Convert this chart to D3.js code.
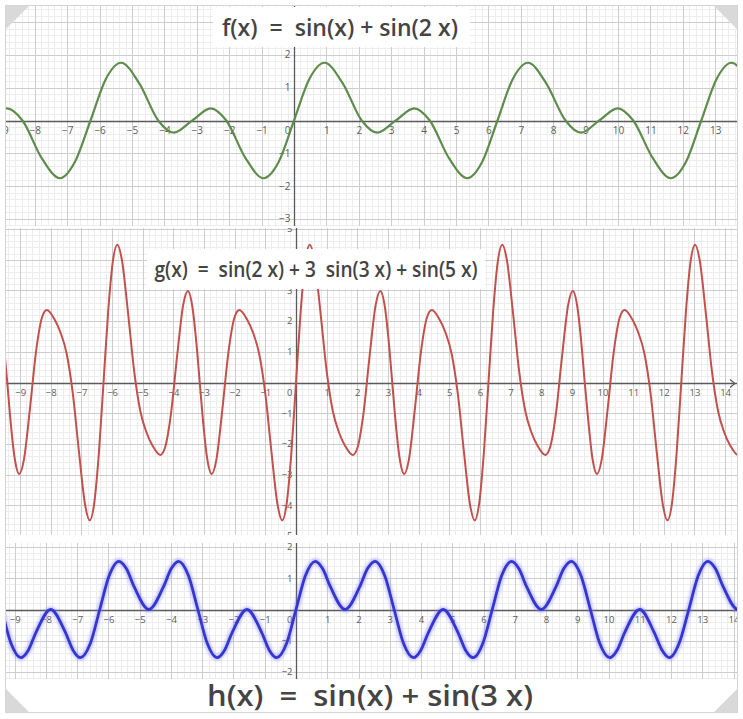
<!DOCTYPE html>
<html><head><meta charset="utf-8">
<script src="https://cdn.jsdelivr.net/npm/d3@7"></script>
<style>
html,body{margin:0;padding:0;background:#fff;}
svg{display:block;}
text{font-family:"Open Sans","DejaVu Sans",sans-serif;}
</style></head><body>
<svg id="chart" width="743" height="719"></svg>
<script>
// ---------- data (key points: extrema, zeros, shoulders) ----------
const fX = [-10.00,-9.42,-8.86,-8.38,-7.79,-7.22,-6.76,-6.28,-5.81,-5.34,-4.78,-4.19,-3.71,-3.14,-2.57,-2.09,-1.50,-0.94,-0.47,0,0.47,0.94,1.50,2.09,2.57,3.14,3.71,4.19,4.78,5.35,5.81,6.28,6.75,7.22,7.78,8.38,8.86,9.42,9.99,10.47,11.07,11.63,12.10,12.57,13.04,13.50,14.07,14.66];
const fY = [-0.37,0,0.37,0,-1.14,-1.76,-1.26,0,1.26,1.76,1.14,0,-0.37,0,0.37,0,-1.14,-1.76,-1.26,0,1.26,1.76,1.14,0,-0.37,0,0.37,0,-1.14,-1.76,-1.26,0,1.26,1.76,1.14,0,-0.37,0,0.37,0,-1.14,-1.76,-1.26,0,1.26,1.76,1.14,0];

const gX = [-9.97,-9.82,-9.67,-9.52,-9.42,-9.33,-9.18,-9.03,-8.88,-8.68,-8.48,-8.28,-8.13,-7.88,-7.68,-7.48,-7.28,-7.08,-6.88,-6.73,-6.58,-6.43,
  -6.28,-6.13,-5.98,-5.83,-5.68,-5.48,-5.28,-5.08,-4.88,-4.68,-4.43,-4.28,-4.08,-3.88,-3.68,-3.53,-3.38,-3.23,-3.14,-3.05,-2.90,-2.75,-2.60,-2.40,-2.20,-2.00,-1.85,-1.60,-1.40,-1.20,-1.00,-0.80,-0.60,-0.45,-0.30,-0.15,
  0,0.15,0.30,0.45,0.60,0.80,1.00,1.20,1.40,1.60,1.85,2.00,2.20,2.40,2.60,2.75,2.90,3.05,3.14,3.23,3.38,3.53,3.68,3.88,4.08,4.28,4.43,4.68,4.88,5.08,5.28,5.48,5.68,5.83,5.98,6.13,
  6.28,6.43,6.58,6.73,6.88,7.08,7.28,7.48,7.68,7.88,8.13,8.28,8.48,8.68,8.88,9.03,9.18,9.33,9.42,9.52,9.67,9.82,9.97,10.17,10.37,10.57,10.72,10.97,11.17,11.37,11.57,11.77,11.97,12.12,12.27,12.42,
  12.57,12.72,12.87,13.02,13.17,13.37,13.57,13.77,13.97,14.17,14.42,14.57,14.77];
const gY = [2.53,2.98,2.46,1.07,0,-1.07,-2.46,-2.98,-2.53,-0.85,1.02,2.14,2.36,2.06,1.62,0.93,-0.37,-2.27,-3.99,-4.49,-3.91,-2.28,
  0,2.28,3.91,4.49,3.99,2.27,0.37,-0.93,-1.62,-2.06,-2.36,-2.14,-1.02,0.85,2.53,2.98,2.46,1.07,0,-1.07,-2.46,-2.98,-2.53,-0.85,1.02,2.14,2.36,2.06,1.62,0.93,-0.37,-2.27,-3.99,-4.49,-3.91,-2.28,
  0,2.28,3.91,4.49,3.99,2.27,0.37,-0.93,-1.62,-2.06,-2.36,-2.14,-1.02,0.85,2.53,2.98,2.46,1.07,0,-1.07,-2.46,-2.98,-2.53,-0.85,1.02,2.14,2.36,2.06,1.62,0.93,-0.37,-2.27,-3.99,-4.49,-3.91,-2.28,
  0,2.28,3.91,4.49,3.99,2.27,0.37,-0.93,-1.62,-2.06,-2.36,-2.14,-1.02,0.85,2.53,2.98,2.46,1.07,0,-1.07,-2.46,-2.98,-2.53,-0.85,1.02,2.14,2.36,2.06,1.62,0.93,-0.37,-2.27,-3.99,-4.49,-3.91,-2.28,
  0,2.28,3.91,4.49,3.99,2.27,0.37,-0.93,-1.62,-2.06,-2.36,-2.14,-1.02];

const hX = [-10.04,-9.73,
  -9.42,-9.12,-8.81,-8.57,-8.32,-7.85,-7.38,-7.13,-6.90,-6.58,
  -6.28,-5.98,-5.67,-5.43,-5.18,-4.71,-4.24,-3.99,-3.76,-3.44,
  -3.14,-2.84,-2.53,-2.29,-2.04,-1.57,-1.10,-0.85,-0.62,-0.30,
  0,0.30,0.62,0.85,1.10,1.57,2.04,2.29,2.53,2.84,
  3.14,3.44,3.76,3.99,4.24,4.71,5.18,5.43,5.67,5.98,
  6.28,6.58,6.90,7.13,7.38,7.85,8.32,8.57,8.81,9.12,
  9.42,9.72,10.04,10.27,10.52,11.00,11.46,11.72,11.95,12.26,
  12.57,12.87,13.18,13.42,13.67,14.14,14.61];
const hY = [1.54,1.08,
  0,-1.08,-1.54,-1.31,-0.73,0,-0.73,-1.31,-1.54,-1.08,
  0,1.08,1.54,1.31,0.73,0,0.73,1.31,1.54,1.08,
  0,-1.08,-1.54,-1.31,-0.73,0,-0.73,-1.31,-1.54,-1.08,
  0,1.08,1.54,1.31,0.73,0,0.73,1.31,1.54,1.08,
  0,-1.08,-1.54,-1.31,-0.73,0,-0.73,-1.31,-1.54,-1.08,
  0,1.08,1.54,1.31,0.73,0,0.73,1.31,1.54,1.08,
  0,-1.08,-1.54,-1.31,-0.73,0,-0.73,-1.31,-1.54,-1.08,
  0,1.08,1.54,1.31,0.73,0,0.73];

// tick labels (those the reference shows)
const fTickX = [-9,-8,-7,-6,-5,-4,-3,-2,-1,1,2,3,4,5,6,7,8,9,10,11,12,13];
const fTickY = [-3,-2,-1,1,2];
const gTickX = [-9,-8,-7,-6,-5,-4,-3,-2,-1,1,2,3,4,5,6,7,8,9,10,11,12,13,14];
const gTickY = [-5,-4,-3,-2,-1,1,2,3,5];
const hTickX = [-9,-8,-7,-6,-5,-4,-3,-2,-1,1,2,3,4,5,6,7,8,9,10,11,12,13,14];
const hTickY = [-2,-1,1,2];

const titles = ["f(x)  =  sin(x) + sin(2 x)", "g(x)  =  sin(2 x) + 3  sin(3 x) + sin(5 x)", "h(x)  =  sin(x) + sin(3 x)"];

// ---------- layout ----------
const panels = [
  {id:"f", X:fX, Y:fY, tx:fTickX, ty:fTickY, x0:6, x1:737, y0:6, y1:226, ox:294, oy:120.5, ux:32.4, uy:32.8,
   color:"#5d8c4c", w:2.2, lab:10},
  {id:"g", X:gX, Y:gY, tx:gTickX, ty:gTickY, x0:6, x1:737, y0:228, y1:535, ox:296, oy:382.5, ux:30.65, uy:30.7,
   color:"#c2504c", w:2, lab:9.5, arrow:true},
  {id:"h", X:hX, Y:hY, tx:hTickX, ty:hTickY, x0:6, x1:737, y0:543, y1:679, ox:296, oy:609.5, ux:31.25, uy:31.3,
   color:"#3535cf", w:2.8, lab:9.5, glow:true}
];

const svg = d3.select("#chart");
const defs = svg.append("defs");
defs.append("filter").attr("id","glow").attr("x","-5%").attr("y","-20%").attr("width","110%").attr("height","140%")
  .append("feGaussianBlur").attr("stdDeviation",1.6);

const minus = s => String(s).replace("-", "\u2212");

panels.forEach((p,pi) => {
  const x = d3.scaleLinear().domain([(p.x0-p.ox)/p.ux, (p.x1-p.ox)/p.ux]).range([p.x0,p.x1]);
  const y = d3.scaleLinear().domain([(p.oy-p.y1)/p.uy, (p.oy-p.y0)/p.uy]).range([p.y1,p.y0]);
  defs.append("clipPath").attr("id","clip"+p.id).append("rect")
    .attr("x",p.x0).attr("y",p.y0).attr("width",p.x1-p.x0).attr("height",p.y1-p.y0);
  const g = svg.append("g").attr("clip-path","url(#clip"+p.id+")");
  const [dx0,dx1] = x.domain(), [dy0,dy1] = y.domain();
  const minorX = d3.range(Math.ceil(dx0*5), Math.floor(dx1*5)+1).map(i=>i/5);
  const minorY = d3.range(Math.ceil(dy0*5), Math.floor(dy1*5)+1).map(i=>i/5);
  const majorX = d3.range(Math.ceil(dx0), Math.floor(dx1)+1);
  const majorY = d3.range(Math.ceil(dy0), Math.floor(dy1)+1);
  g.append("rect").attr("x",p.x0).attr("y",p.y0).attr("width",p.x1-p.x0).attr("height",p.y1-p.y0).attr("fill","#fff");
  g.selectAll(null).data(minorX).enter().append("line")
    .attr("x1",d=>Math.round(x(d))+0.5).attr("x2",d=>Math.round(x(d))+0.5).attr("y1",p.y0).attr("y2",p.y1)
    .attr("stroke","#ededed").attr("stroke-width",1);
  g.selectAll(null).data(minorY).enter().append("line")
    .attr("y1",d=>Math.round(y(d))+0.5).attr("y2",d=>Math.round(y(d))+0.5).attr("x1",p.x0).attr("x2",p.x1)
    .attr("stroke","#ededed").attr("stroke-width",1);
  g.selectAll(null).data(majorX).enter().append("line")
    .attr("x1",d=>Math.round(x(d))+0.5).attr("x2",d=>Math.round(x(d))+0.5).attr("y1",p.y0).attr("y2",p.y1)
    .attr("stroke","#cdcdcd").attr("stroke-width",1);
  g.selectAll(null).data(majorY).enter().append("line")
    .attr("y1",d=>Math.round(y(d))+0.5).attr("y2",d=>Math.round(y(d))+0.5).attr("x1",p.x0).attr("x2",p.x1)
    .attr("stroke","#cdcdcd").attr("stroke-width",1);
  // axes
  const ax = Math.round(x(0))+0.5, ay = Math.round(y(0))+0.5;
  g.append("line").attr("x1",p.x0).attr("x2",p.x1).attr("y1",ay).attr("y2",ay).attr("stroke","#5a5a5a").attr("stroke-width",1.3);
  g.append("line").attr("x1",ax).attr("x2",ax).attr("y1",p.y0).attr("y2",p.y1).attr("stroke","#5a5a5a").attr("stroke-width",1.3);
  if (p.arrow) {
    g.append("path").attr("d",`M${p.x1-7},${ay-4}L${p.x1-2},${ay}L${p.x1-7},${ay+4}`)
      .attr("fill","none").attr("stroke","#5a5a5a").attr("stroke-width",1.2);
  }
  // labels
  g.selectAll(null).data(p.tx).enter().append("text")
    .attr("x",d=>x(d)+0.5).attr("y",ay+12).attr("text-anchor","middle")
    .attr("font-size",p.lab).attr("fill","#5c5c5c").text(minus);
  g.append("text").attr("x",ax-4).attr("y",ay+12).attr("text-anchor","end")
    .attr("font-size",p.lab).attr("fill","#5c5c5c").text("0");
  g.selectAll(null).data(p.ty).enter().append("text")
    .attr("x",ax-4).attr("y",d=>y(d)).attr("dy","0.35em").attr("text-anchor","end")
    .attr("font-size",p.lab).attr("fill","#5c5c5c").text(minus);
  // curve
  const line = d3.line().x(i=>x(p.X[i])).y(i=>y(p.Y[i])).curve(d3.curveMonotoneX);
  const idx = d3.range(p.X.length);
  if (p.glow) {
    g.append("path").attr("d",line(idx)).attr("fill","none").attr("stroke","#7b7bff")
      .attr("stroke-width",6).attr("stroke-opacity",0.45).attr("filter","url(#glow)");
  }
  g.append("path").attr("d",line(idx)).attr("fill","none").attr("stroke",p.color)
    .attr("stroke-width",p.w).attr("stroke-linejoin","round");
});

// title boxes & titles
svg.append("rect").attr("x",213).attr("y",7).attr("width",257).attr("height",40).attr("fill","#fff");
svg.append("text").attr("x",340).attr("y",36).attr("text-anchor","middle").attr("font-size",23).attr("font-weight",600)
  .attr("fill","#444").style("white-space","pre").attr("textLength",236).attr("lengthAdjust","spacingAndGlyphs").text(titles[0]);
svg.append("rect").attr("x",147).attr("y",249).attr("width",338).attr("height",40).attr("fill","#fff");
svg.append("text").attr("x",316).attr("y",277).attr("text-anchor","middle").attr("font-size",21).attr("font-weight",600)
  .attr("fill","#444").style("white-space","pre").attr("textLength",323).attr("lengthAdjust","spacingAndGlyphs").text(titles[1]);
svg.append("text").attr("x",370).attr("y",706).attr("text-anchor","middle").attr("font-size",28).attr("font-weight",600)
  .attr("fill","#444").style("white-space","pre").attr("textLength",326).attr("lengthAdjust","spacingAndGlyphs").text(titles[2]);

// frame and corner handles
svg.append("rect").attr("x",5.5).attr("y",5.5).attr("width",732).attr("height",707)
  .attr("fill","none").attr("stroke","#d4d4d4");
const tri = [[[6,6],[29,6],[6,29]],[[737,6],[714,6],[737,29]],[[6,712],[6,689],[29,712]],[[737,712],[737,689],[714,712]]];
svg.selectAll(null).data(tri).enter().append("path")
  .attr("d",d=>"M"+d.map(q=>q.join(",")).join("L")+"Z").attr("fill","#d9d9d9");
</script>
</body></html>
